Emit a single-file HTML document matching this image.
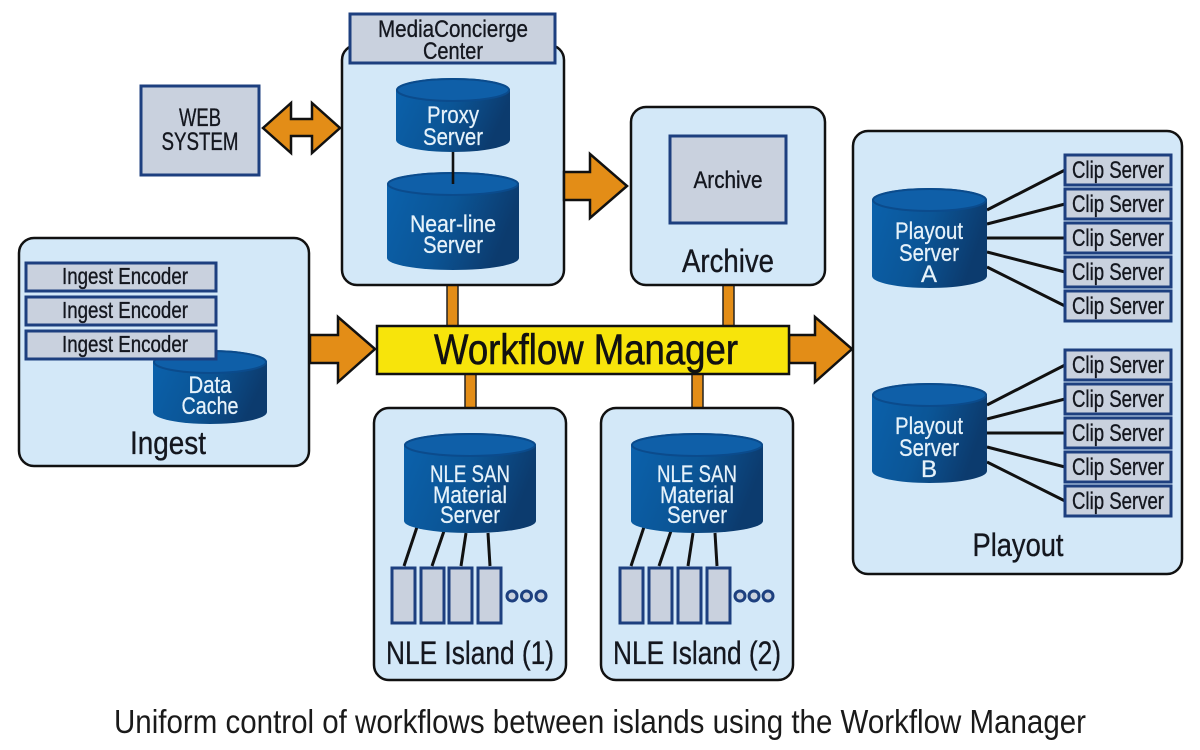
<!DOCTYPE html>
<html><head><meta charset="utf-8"><style>
html,body{margin:0;padding:0;background:#fff}
svg{display:block}
text{font-family:"Liberation Sans",sans-serif;text-anchor:middle}
.d{fill:#14171f;stroke:#14171f;stroke-width:.35}.w{fill:#e6f2fa;stroke:#e6f2fa;stroke-width:.25}
.box{fill:#d3e8f8;stroke:#111;stroke-width:2.5}
.g{fill:#c9d1de;stroke:#1d3f7f;stroke-width:3}
.ln{stroke:#111;stroke-width:3;fill:none}
.ar{fill:#e38d17;stroke:#111;stroke-width:2.5;stroke-linejoin:miter}
.bar{fill:#e38d17;stroke:#222;stroke-width:1.5}
.top{fill:#0f5fa8;stroke:#0b4b8c;stroke-width:2}
</style></head><body>
<svg width="1200" height="750" viewBox="0 0 1200 750" xmlns="http://www.w3.org/2000/svg">
<defs><linearGradient id="c" x1="0" x2="1" y1="0" y2="0.3"><stop offset="0" stop-color="#0b62ad"/><stop offset="0.55" stop-color="#0b5596"/><stop offset="1" stop-color="#0c3b6e"/></linearGradient></defs>
<rect width="1200" height="750" fill="#fff"/>

<!-- connectors behind the bar -->
<rect class="bar" x="447" y="284" width="11" height="44"/>
<rect class="bar" x="723" y="284" width="11" height="44"/>
<rect class="bar" x="465" y="372" width="11" height="38"/>
<rect class="bar" x="692" y="372" width="11" height="38"/>

<!-- containers -->
<rect class="box" x="342" y="45" width="222" height="240" rx="15"/>
<rect class="box" x="631" y="107" width="194" height="178" rx="15"/>
<rect class="box" x="853" y="131" width="329" height="443" rx="15"/>
<rect class="box" x="19" y="238" width="290" height="228" rx="15"/>
<rect class="box" x="374" y="408" width="192" height="272" rx="15"/>
<rect class="box" x="601" y="408" width="192" height="272" rx="15"/>

<!-- web system -->
<rect class="g" x="141" y="86" width="118" height="89"/>
<text class="d" x="200" y="126" font-size="25" textLength="42" lengthAdjust="spacingAndGlyphs">WEB</text>
<text class="d" x="200" y="150" font-size="25" textLength="77" lengthAdjust="spacingAndGlyphs">SYSTEM</text>
<polygon class="ar" points="263,128 291,103 291,119 312,119 312,103 340,128 312,153 312,136 291,136 291,153"/>

<!-- MediaConcierge -->
<rect class="g" x="350" y="14" width="205" height="49"/>
<text class="d" x="453" y="37" font-size="24" textLength="150" lengthAdjust="spacingAndGlyphs">MediaConcierge</text>
<text class="d" x="453" y="59" font-size="24" textLength="60" lengthAdjust="spacingAndGlyphs">Center</text>

<!-- Proxy -->
<path d="M396,90A57,12 0 0 1 510,90V140A57,12 0 0 1 396,140Z" fill="url(#c)"/>
<ellipse class="top" cx="453" cy="90" rx="56" ry="11"/>
<text class="w" x="453" y="123" font-size="24" textLength="52" lengthAdjust="spacingAndGlyphs">Proxy</text>
<text class="w" x="453" y="145" font-size="24" textLength="60" lengthAdjust="spacingAndGlyphs">Server</text>
<!-- Near-line -->
<path d="M387,184A66,12 0 0 1 519,184V258A66,12 0 0 1 387,258Z" fill="url(#c)"/>
<ellipse class="top" cx="453" cy="184" rx="65" ry="11"/>
<line x1="453" y1="152" x2="453" y2="184" stroke="#111" stroke-width="2.6"/>
<text class="w" x="453" y="232" font-size="24" textLength="86" lengthAdjust="spacingAndGlyphs">Near-line</text>
<text class="w" x="453" y="253" font-size="24" textLength="60" lengthAdjust="spacingAndGlyphs">Server</text>

<!-- Archive -->
<polygon class="ar" points="564,172 590,172 590,154 627,186 590,218 590,200 564,200"/>
<rect class="g" x="670" y="136" width="116" height="87"/>
<text class="d" x="728" y="188" font-size="24" textLength="69" lengthAdjust="spacingAndGlyphs">Archive</text>
<text class="d" x="728" y="272" font-size="32" textLength="92" lengthAdjust="spacingAndGlyphs">Archive</text>

<!-- Ingest -->
<path d="M153,362A57,12 0 0 1 267,362V412A57,12 0 0 1 153,412Z" fill="url(#c)"/>
<ellipse class="top" cx="210" cy="362" rx="56" ry="11"/>
<rect class="g" x="26" y="263" width="190" height="28"/>
<text class="d" x="125" y="284" font-size="23" textLength="126" lengthAdjust="spacingAndGlyphs">Ingest Encoder</text>
<rect class="g" x="26" y="297" width="190" height="28"/>
<text class="d" x="125" y="318" font-size="23" textLength="126" lengthAdjust="spacingAndGlyphs">Ingest Encoder</text>
<rect class="g" x="26" y="331" width="190" height="28"/>
<text class="d" x="125" y="352" font-size="23" textLength="126" lengthAdjust="spacingAndGlyphs">Ingest Encoder</text>
<text class="w" x="210" y="393" font-size="24" textLength="43" lengthAdjust="spacingAndGlyphs">Data</text>
<text class="w" x="210" y="414" font-size="24" textLength="57" lengthAdjust="spacingAndGlyphs">Cache</text>
<text class="d" x="168" y="454" font-size="32" textLength="76" lengthAdjust="spacingAndGlyphs">Ingest</text>

<!-- arrows & Workflow Manager -->
<polygon class="ar" points="310,335 338,335 338,317 375,349 338,382 338,363 310,363"/>
<polygon class="ar" points="789,335 815,335 815,317 852,349 815,382 815,363 789,363"/>
<rect x="377" y="326" width="412" height="48" fill="#f7e40b" stroke="#111" stroke-width="2.5"/>
<text fill="#111" stroke="#111" stroke-width=".6" x="586" y="364" font-size="43" textLength="304" lengthAdjust="spacingAndGlyphs">Workflow Manager</text>

<!-- NLE 1 -->
<g class="ln">
<path d="M417,527L404,566M444,531L432,566M466,533L461,566M488,533L490,566"/>
</g>
<path d="M404,445A66,12 0 0 1 536,445V521A66,12 0 0 1 404,521Z" fill="url(#c)"/>
<ellipse class="top" cx="470" cy="445" rx="65" ry="11"/>
<text class="w" x="470" y="482" font-size="24" textLength="80" lengthAdjust="spacingAndGlyphs">NLE SAN</text>
<text class="w" x="470" y="503" font-size="24" textLength="74" lengthAdjust="spacingAndGlyphs">Material</text>
<text class="w" x="470" y="523" font-size="24" textLength="60" lengthAdjust="spacingAndGlyphs">Server</text>
<rect class="g" x="392" y="568" width="23" height="55"/>
<rect class="g" x="421" y="568" width="23" height="55"/>
<rect class="g" x="449" y="568" width="23" height="55"/>
<rect class="g" x="478" y="568" width="23" height="55"/>
<g fill="#c9d1de" stroke="#1d3f7f" stroke-width="3"><circle cx="512" cy="596" r="5"/><circle cx="526.5" cy="596" r="5"/><circle cx="541" cy="596" r="5"/></g>
<text class="d" x="470" y="664" font-size="32" textLength="168" lengthAdjust="spacingAndGlyphs">NLE Island (1)</text>

<!-- NLE 2 -->
<g class="ln">
<path d="M644,527L631,566M671,531L659,566M693,533L688,566M715,533L717,566"/>
</g>
<path d="M631,445A66,12 0 0 1 763,445V521A66,12 0 0 1 631,521Z" fill="url(#c)"/>
<ellipse class="top" cx="697" cy="445" rx="65" ry="11"/>
<text class="w" x="697" y="482" font-size="24" textLength="80" lengthAdjust="spacingAndGlyphs">NLE SAN</text>
<text class="w" x="697" y="503" font-size="24" textLength="74" lengthAdjust="spacingAndGlyphs">Material</text>
<text class="w" x="697" y="523" font-size="24" textLength="60" lengthAdjust="spacingAndGlyphs">Server</text>
<rect class="g" x="620" y="568" width="23" height="55"/>
<rect class="g" x="649" y="568" width="23" height="55"/>
<rect class="g" x="678" y="568" width="23" height="55"/>
<rect class="g" x="707" y="568" width="23" height="55"/>
<g fill="#c9d1de" stroke="#1d3f7f" stroke-width="3"><circle cx="740" cy="596" r="5"/><circle cx="754" cy="596" r="5"/><circle cx="768" cy="596" r="5"/></g>
<text class="d" x="697" y="664" font-size="32" textLength="168" lengthAdjust="spacingAndGlyphs">NLE Island (2)</text>

<!-- Playout A -->
<g class="ln">
<path d="M987,210L1065,170M987,224L1065,204M987,238H1065M987,252L1065,272M987,267L1065,306"/>
<path d="M987,405L1065,365M987,419L1065,399M987,433H1065M987,447L1065,467M987,462L1065,501"/>
</g>
<path d="M872,200A57.5,12 0 0 1 987,200V276A57.5,12 0 0 1 872,276Z" fill="url(#c)"/>
<ellipse class="top" cx="929.5" cy="200" rx="56.5" ry="11"/>
<text class="w" x="929" y="239" font-size="24" textLength="68" lengthAdjust="spacingAndGlyphs">Playout</text>
<text class="w" x="929" y="261" font-size="24" textLength="60" lengthAdjust="spacingAndGlyphs">Server</text>
<text class="w" x="929" y="282" font-size="24" textLength="16" lengthAdjust="spacingAndGlyphs">A</text>
<!-- Playout B -->
<path d="M872,395A57.5,12 0 0 1 987,395V471A57.5,12 0 0 1 872,471Z" fill="url(#c)"/>
<ellipse class="top" cx="929.5" cy="395" rx="56.5" ry="11"/>
<text class="w" x="929" y="434" font-size="24" textLength="68" lengthAdjust="spacingAndGlyphs">Playout</text>
<text class="w" x="929" y="456" font-size="24" textLength="60" lengthAdjust="spacingAndGlyphs">Server</text>
<text class="w" x="929" y="477" font-size="24" textLength="16" lengthAdjust="spacingAndGlyphs">B</text>

<!-- Clip servers -->
<rect class="g" x="1065" y="155" width="106" height="30"/><text class="d" x="1118" y="178" font-size="24" textLength="92" lengthAdjust="spacingAndGlyphs">Clip Server</text>
<rect class="g" x="1065" y="189" width="106" height="30"/><text class="d" x="1118" y="212" font-size="24" textLength="92" lengthAdjust="spacingAndGlyphs">Clip Server</text>
<rect class="g" x="1065" y="223" width="106" height="30"/><text class="d" x="1118" y="246" font-size="24" textLength="92" lengthAdjust="spacingAndGlyphs">Clip Server</text>
<rect class="g" x="1065" y="257" width="106" height="30"/><text class="d" x="1118" y="280" font-size="24" textLength="92" lengthAdjust="spacingAndGlyphs">Clip Server</text>
<rect class="g" x="1065" y="291" width="106" height="30"/><text class="d" x="1118" y="314" font-size="24" textLength="92" lengthAdjust="spacingAndGlyphs">Clip Server</text>
<rect class="g" x="1065" y="350" width="106" height="30"/><text class="d" x="1118" y="373" font-size="24" textLength="92" lengthAdjust="spacingAndGlyphs">Clip Server</text>
<rect class="g" x="1065" y="384" width="106" height="30"/><text class="d" x="1118" y="407" font-size="24" textLength="92" lengthAdjust="spacingAndGlyphs">Clip Server</text>
<rect class="g" x="1065" y="418" width="106" height="30"/><text class="d" x="1118" y="441" font-size="24" textLength="92" lengthAdjust="spacingAndGlyphs">Clip Server</text>
<rect class="g" x="1065" y="452" width="106" height="30"/><text class="d" x="1118" y="475" font-size="24" textLength="92" lengthAdjust="spacingAndGlyphs">Clip Server</text>
<rect class="g" x="1065" y="486" width="106" height="30"/><text class="d" x="1118" y="509" font-size="24" textLength="92" lengthAdjust="spacingAndGlyphs">Clip Server</text>
<text class="d" x="1018" y="556" font-size="32" textLength="91" lengthAdjust="spacingAndGlyphs">Playout</text>

<!-- caption -->
<text fill="#1a1a1a" x="600" y="733" font-size="33" textLength="972" lengthAdjust="spacingAndGlyphs">Uniform control of workflows between islands using the Workflow Manager</text>
</svg>
</body></html>
